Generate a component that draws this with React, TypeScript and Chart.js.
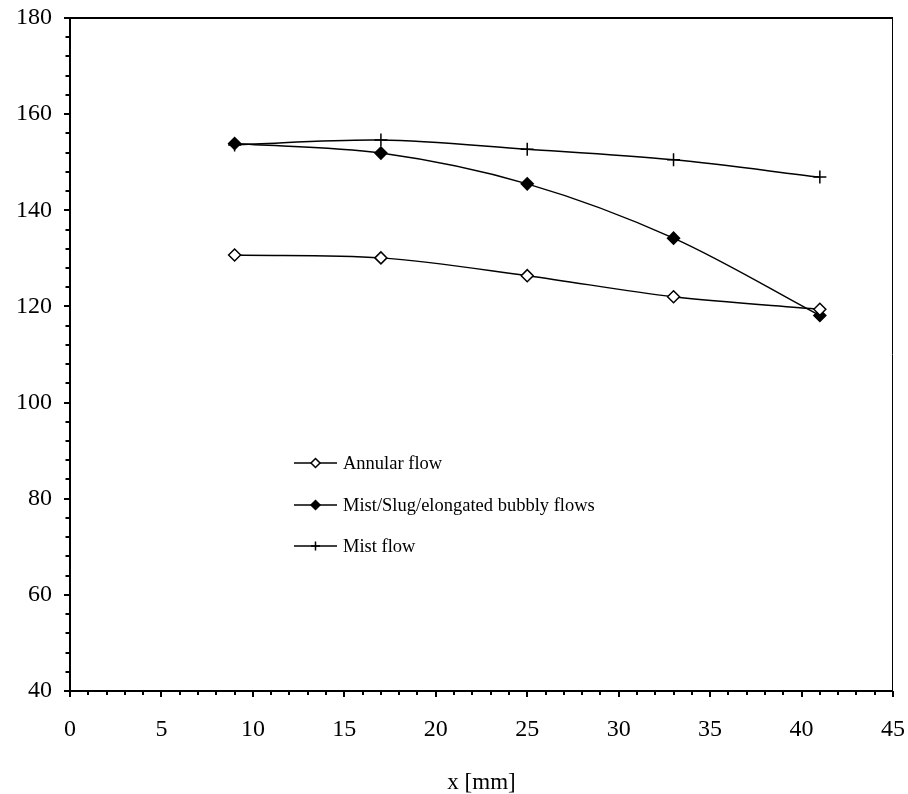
import React, { useEffect, useRef } from "react";
import { Chart, registerables } from "chart.js";

Chart.register(...registerables);

// ---- data ----
const xPositions = [9, 17, 25, 33, 41];
const annularFlow = [130.7, 130.1, 126.4, 122.0, 119.4];
const mistSlugFlow = [153.9, 151.9, 145.5, 134.2, 118.1];
const mistFlow = [153.6, 154.6, 152.7, 150.5, 146.9];
const seriesLabels = ["Annular flow", "Mist/Slug/elongated bubbly flows", "Mist flow"];
const xAxisTitle = "x [mm]";

// ---- axis settings ----
const xRange = [0, 45];
const xMajorStep = 5;
const xMinorStep = 1;
const yRange = [40, 180];
const yMajorStep = 20;
const yMinorStep = 4;

const FONT = "'Liberation Serif', 'Times New Roman', serif";

function drawMarker(ctx: CanvasRenderingContext2D, style: string, x: number, y: number, r: number, fill: string) {
  ctx.save();
  ctx.strokeStyle = "#000";
  ctx.lineWidth = 1.5;
  ctx.beginPath();
  if (style === "rectRot") {
    ctx.moveTo(x, y - r);
    ctx.lineTo(x + r, y);
    ctx.lineTo(x, y + r);
    ctx.lineTo(x - r, y);
    ctx.closePath();
    ctx.fillStyle = fill;
    ctx.fill();
    ctx.stroke();
  } else {
    ctx.moveTo(x, y - r);
    ctx.lineTo(x, y + r);
    ctx.moveTo(x - r, y);
    ctx.lineTo(x + r, y);
    ctx.stroke();
  }
  ctx.restore();
}

const framePlugin = {
  id: "frameAndTicks",
  afterDraw(chart: any) {
    const { ctx, chartArea } = chart;
    const xs = chart.scales.x;
    const ys = chart.scales.y;
    const { left, right, top, bottom } = chartArea;
    ctx.save();
    ctx.strokeStyle = "#000";
    // top & right borders
    ctx.lineWidth = 2;
    ctx.beginPath();
    ctx.moveTo(left, top);
    ctx.lineTo(right, top);
    ctx.stroke();
    ctx.lineWidth = 1;
    ctx.beginPath();
    ctx.moveTo(right - 0.5, top);
    ctx.lineTo(right - 0.5, bottom);
    ctx.stroke();
    // axes
    ctx.lineWidth = 2;
    ctx.beginPath();
    ctx.moveTo(left, top - 1);
    ctx.lineTo(left, bottom + 1);
    ctx.moveTo(left - 1, bottom);
    ctx.lineTo(right, bottom);
    ctx.stroke();
    // x ticks
    ctx.beginPath();
    for (let v = xRange[0]; v <= xRange[1] + 1e-9; v += xMinorStep) {
      const px = Math.round(xs.getPixelForValue(v));
      const major = Math.abs(v / xMajorStep - Math.round(v / xMajorStep)) < 1e-6;
      ctx.moveTo(px, bottom);
      ctx.lineTo(px, bottom + (major ? 6 : 4));
    }
    // y ticks
    for (let v = yRange[0]; v <= yRange[1] + 1e-9; v += yMinorStep) {
      const py = Math.round(ys.getPixelForValue(v));
      const major = Math.abs((v - yRange[0]) / yMajorStep - Math.round((v - yRange[0]) / yMajorStep)) < 1e-6;
      ctx.moveTo(left, py);
      ctx.lineTo(left - (major ? 6 : 4.5), py);
    }
    ctx.stroke();

    // legend
    const legendLeft = 294;
    const legendLineLen = 43;
    const rowYs = [463, 505, 546];
    const styles = ["rectRot", "rectRot", "cross"];
    const fills = ["#fff", "#000", "#000"];
    chart.data.datasets.forEach((ds: any, i: number) => {
      const y = rowYs[i];
      ctx.lineWidth = 1.5;
      ctx.strokeStyle = "#000";
      ctx.beginPath();
      ctx.moveTo(legendLeft, y);
      ctx.lineTo(legendLeft + legendLineLen, y);
      ctx.stroke();
      drawMarker(ctx, styles[i], legendLeft + legendLineLen / 2, y, 4.5, fills[i]);
      ctx.fillStyle = "#000";
      ctx.font = `18.5px ${FONT}`;
      ctx.textBaseline = "middle";
      ctx.textAlign = "left";
      ctx.fillText(ds.label, legendLeft + legendLineLen + 6, y + 1);
    });
    ctx.restore();
  },
};

export default function App() {
  const ref = useRef<HTMLCanvasElement | null>(null);

  useEffect(() => {
    if (!ref.current) return;
    const mk = (vals: number[]) => xPositions.map((x, i) => ({ x, y: vals[i] }));
    const chart = new Chart(ref.current, {
      type: "line",
      data: {
        datasets: [
          {
            label: seriesLabels[0],
            data: mk(annularFlow),
            borderColor: "#000",
            borderWidth: 1.5,
            backgroundColor: "#fff",
            pointStyle: "rectRot",
            pointRadius: 6,
            pointBorderWidth: 1.5,
            pointBackgroundColor: "#fff",
            pointBorderColor: "#000",
            tension: 0.33,
            fill: false,
          },
          {
            label: seriesLabels[1],
            data: mk(mistSlugFlow),
            borderColor: "#000",
            borderWidth: 1.5,
            backgroundColor: "#000",
            pointStyle: "rectRot",
            pointRadius: 6,
            pointBorderWidth: 1.5,
            pointBackgroundColor: "#000",
            pointBorderColor: "#000",
            tension: 0.33,
            fill: false,
          },
          {
            label: seriesLabels[2],
            data: mk(mistFlow),
            borderColor: "#000",
            borderWidth: 1.5,
            backgroundColor: "#000",
            pointStyle: "cross",
            pointRadius: 6.5,
            pointBorderWidth: 1.5,
            pointBorderColor: "#000",
            tension: 0.33,
            fill: false,
          },
        ],
      },
      options: {
        responsive: false,
        animation: false,
        parsing: false as any,
        layout: { padding: { top: 18, right: 15, left: 0, bottom: 0 } },
        plugins: {
          legend: { display: false },
          tooltip: { enabled: false },
        },
        scales: {
          x: {
            type: "linear",
            min: xRange[0],
            max: xRange[1],
            border: { display: false },
            grid: { display: true, drawOnChartArea: false, drawTicks: true, tickLength: 6, tickColor: "rgba(0,0,0,0)" },
            ticks: {
              stepSize: xMajorStep,
              color: "#000",
              padding: 18,
              maxRotation: 0,
              font: { family: FONT, size: 24 },
            },
            title: {
              display: true,
              text: xAxisTitle,
              color: "#000",
              font: { family: FONT, size: 23, lineHeight: 1.0 },
              padding: { top: 0, bottom: 0 },
            },
            afterFit: (s: any) => {
              s.height = 103;
              s.paddingLeft = 0;
              s.paddingRight = 0;
            },
          },
          y: {
            type: "linear",
            min: yRange[0],
            max: yRange[1],
            border: { display: false },
            grid: { display: true, drawOnChartArea: false, drawTicks: true, tickLength: 6, tickColor: "rgba(0,0,0,0)" },
            ticks: {
              stepSize: yMajorStep,
              color: "#000",
              padding: 12,
              font: { family: FONT, size: 24 },
            },
            afterFit: (s: any) => {
              s.width = 70;
              s.paddingTop = 0;
              s.paddingBottom = 0;
            },
          },
        },
      },
      plugins: [framePlugin],
    });
    return () => chart.destroy();
  }, []);

  return (
    <div style={{ position: "fixed", left: 0, top: 0, width: 908, height: 794, background: "#fff" }}>
      <canvas ref={ref} width={908} height={794} style={{ display: "block" }} />
    </div>
  );
}
